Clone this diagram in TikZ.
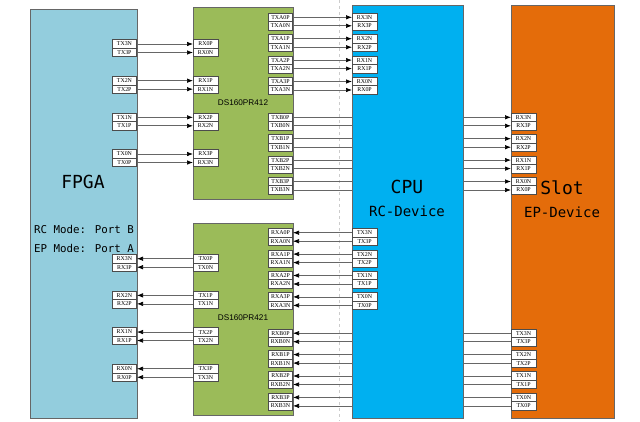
\documentclass[tikz,border=0pt]{standalone}
\usepackage{fontspec}
\setmainfont{Liberation Serif}
\newfontfamily\monofont{DejaVu Sans Mono}
\newfontfamily\chipfont{Liberation Sans}
\usetikzlibrary{arrows.meta}

\definecolor{fpgablue}{RGB}{147,205,221}
\definecolor{dsgreen}{RGB}{155,187,89}
\definecolor{cpublue}{RGB}{0,176,240}
\definecolor{slotorange}{RGB}{228,108,10}

\tikzset{
  block/.style={draw=black!60, line width=0.6pt, anchor=north west, inner sep=0pt},
  padbox/.style={draw=black!70, fill=white, line width=0.6pt, minimum width=24.5pt, minimum height=8.5pt, inner sep=0pt, font=\fontsize{5.9}{6}\selectfont},
  tip/.style={draw=black!60, line width=0.7pt, -{Latex[length=6pt,width=4.5pt,color=black]}},
  bigname/.style={font=\monofont\fontsize{18}{20}\selectfont},
  subname/.style={font=\monofont\fontsize{14}{16}\selectfont},
  modetext/.style={anchor=west, inner sep=0pt, font=\monofont\fontsize{10.8}{12}\selectfont},
  chipname/.style={font=\chipfont\fontsize{8.2}{9}\selectfont}
}

\begin{document}
\begin{tikzpicture}[x=1pt, y=-1pt]
\useasboundingbox (0,0) rectangle (640,421);

% split line
\draw[gray!40, dashed, line width=0.8pt] (339,0) -- (339,421);

% blocks
\node[block, fill=fpgablue, minimum width=107pt, minimum height=409pt] (fpga) at (30,9) {};
\node[block, fill=dsgreen, minimum width=100pt, minimum height=192pt] (ds412) at (193,7) {};
\node[block, fill=dsgreen, minimum width=100pt, minimum height=192pt] (ds421) at (193,223) {};
\node[block, fill=slotorange, minimum width=103pt, minimum height=413pt] (slot) at (511,5) {};

\node[bigname] (fpganame) at (83,182) {FPGA};
\node[modetext] (rcmode) at (34,229) {RC Mode: Port B};
\node[modetext] (epmode) at (34,248) {EP Mode: Port A};
\node[chipname] (name412) at (243,103) {DS160PR412};
\node[chipname] (name421) at (243,318) {DS160PR421};
\node[bigname] (slotname) at (562,188) {Slot};
\node[subname] (slotsub) at (562,212) {EP-Device};

% FPGA TX -> DS160PR412 RX
\foreach \a/\b [count=\k from 0] in {3N/0P,3P/0N,2N/1P,2P/1N,1N/2P,1P/2N,0N/3P,0P/3N}{
  \pgfmathsetmacro\y{44+36.67*int(\k/2)+8.5*mod(\k,2)}
  \node[padbox, anchor=east] (ftx\a) at (137,\y) {TX\a};
  \node[padbox, anchor=west] (drx\b) at (193,\y) {RX\b};
  \draw[tip] (ftx\a) -- (drx\b);
}

% DS160PR412 TXB -> Slot RX
\foreach \a/\b [count=\k from 0] in {0P/3N,0N/3P,1P/2N,1N/2P,2P/1N,2N/1P,3P/0N,3N/0P}{
  \pgfmathsetmacro\y{117.3+21.4*int(\k/2)+8.5*mod(\k,2)}
  \node[padbox, anchor=east] (dtxb\a) at (293,\y) {TXB\a};
  \node[padbox, anchor=west] (srx\b) at (511,\y) {RX\b};
  \draw[tip] (dtxb\a) -- (srx\b);
}

% DS160PR421 TX -> FPGA RX
\foreach \a/\b [count=\k from 0] in {0P/3N,0N/3P,1P/2N,1N/2P,2P/1N,2N/1P,3P/0N,3N/0P}{
  \pgfmathsetmacro\y{258.7+36.67*int(\k/2)+8.5*mod(\k,2)}
  \node[padbox, anchor=west] (etx\a) at (193,\y) {TX\a};
  \node[padbox, anchor=east] (frx\b) at (137,\y) {RX\b};
  \draw[tip] (etx\a) -- (frx\b);
}

% Slot TX -> DS160PR421 RXB
\foreach \a/\b [count=\k from 0] in {3N/0P,3P/0N,2N/1P,2P/1N,1N/2P,1P/2N,0N/3P,0P/3N}{
  \pgfmathsetmacro\y{333.2+21.4*int(\k/2)+8.5*mod(\k,2)}
  \node[padbox, anchor=west] (stx\a) at (511,\y) {TX\a};
  \node[padbox, anchor=east] (erxb\b) at (293,\y) {RXB\b};
  \draw[tip] (stx\a) -- (erxb\b);
}

% CPU on top of the slot lines
\node[block, fill=cpublue, minimum width=111pt, minimum height=413pt] (cpu) at (352,5) {};
\node[bigname] (cpuname) at (407,187) {CPU};
\node[subname] (cpusub) at (407,211) {RC-Device};

% DS160PR412 TXA -> CPU RX
\foreach \a/\b [count=\k from 0] in {0P/3N,0N/3P,1P/2N,1N/2P,2P/1N,2N/1P,3P/0N,3N/0P}{
  \pgfmathsetmacro\y{17.3+21.4*int(\k/2)+8.5*mod(\k,2)}
  \node[padbox, anchor=east] (dtxa\a) at (293,\y) {TXA\a};
  \node[padbox, anchor=west] (crx\b) at (352,\y) {RX\b};
  \draw[tip] (dtxa\a) -- (crx\b);
}

% CPU TX -> DS160PR421 RXA
\foreach \a/\b [count=\k from 0] in {3N/0P,3P/0N,2N/1P,2P/1N,1N/2P,1P/2N,0N/3P,0P/3N}{
  \pgfmathsetmacro\y{232.7+21.4*int(\k/2)+8.5*mod(\k,2)}
  \node[padbox, anchor=west] (ctx\a) at (352,\y) {TX\a};
  \node[padbox, anchor=east] (erxa\b) at (293,\y) {RXA\b};
  \draw[tip] (ctx\a) -- (erxa\b);
}
\end{tikzpicture}
\end{document}
